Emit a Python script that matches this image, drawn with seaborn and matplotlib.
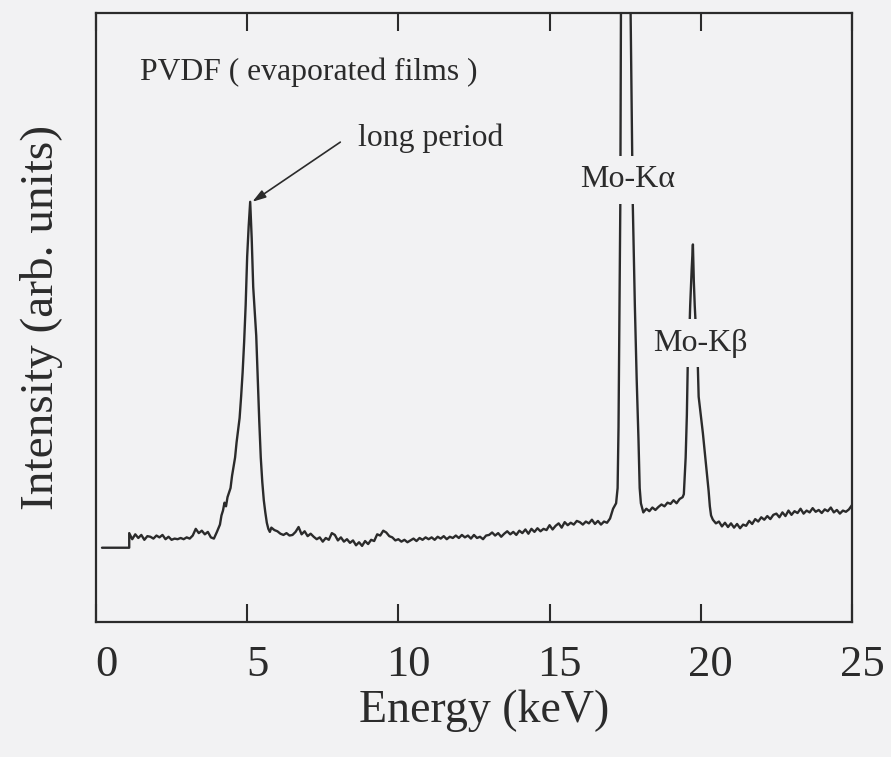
import numpy as np
import seaborn as sns
import matplotlib.pyplot as plt
from matplotlib.transforms import ScaledTranslation

# ==============================
# Spectrum (intensity in arb. units, 0-100 = frame height)
# ==============================
# flat lead-in and the step at ~1.1 keV
lead_e = [0.2, 1.1, 1.1]
lead_i = [12.2, 12.2, 14.6]

# low-energy background, 0.1 keV channels
low_e = np.round(np.arange(1.2, 3.95, 0.1), 1)
low_i = [13.6, 14.4, 13.8, 14.3, 13.5, 14.1, 14.0, 13.7, 14.2, 13.9,
         14.3, 13.6, 14.0, 13.5, 13.7, 13.6, 13.8, 13.6, 13.9, 13.7,
         14.2, 15.3, 14.6, 15.0, 14.4, 14.8, 13.9, 13.7]

# long period peak
lp_e = [4.0, 4.1, 4.15, 4.2, 4.25, 4.3, 4.35, 4.45, 4.5, 4.55,
        4.6, 4.65, 4.7, 4.75, 4.8, 4.85, 4.9, 4.95, 5.0, 5.05,
        5.1, 5.15, 5.2, 5.25, 5.3, 5.35, 5.4, 5.45, 5.5, 5.55,
        5.6, 5.65, 5.7, 5.75, 5.8]
lp_i = [14.8, 16.0, 17.5, 18.3, 19.6, 19.0, 20.5, 22.0, 24.0, 25.5,
        27.0, 29.5, 31.5, 33.5, 37.0, 41.0, 46.0, 52.0, 60.0, 65.0,
        69.0, 63.0, 55.0, 51.0, 47.0, 40.0, 33.0, 27.0, 23.0, 20.0,
        18.0, 16.3, 15.3, 14.8, 15.5]

# background between long period and Mo-Ka
mid_e = np.round(np.arange(5.9, 17.15, 0.1), 1)
mid_i = [15.1,
         14.9, 14.5, 14.3, 14.6, 14.2, 14.3, 14.8, 15.6, 14.4, 14.9,
         14.1, 14.5, 14.0, 13.6, 13.9, 13.2, 13.8, 13.5, 14.6, 14.3,
         13.4, 13.9, 13.2, 13.6, 13.0, 13.4, 12.6, 13.1, 12.5, 13.3,
         12.8, 13.5, 13.3, 14.4, 14.2, 15.0, 14.7, 14.1, 13.9, 13.4,
         13.6, 13.2, 13.5, 13.1, 13.4, 13.7, 13.3, 13.8, 13.5, 13.9,
         13.6, 13.9, 13.5, 14.0, 13.7, 14.1, 13.6, 14.0, 13.8, 14.2,
         13.8, 14.3, 13.9, 14.2, 13.7, 14.3, 13.8, 14.0, 13.6, 14.2,
         14.3, 14.7, 14.2, 14.6, 14.0, 14.5, 14.9, 14.4, 14.8, 14.3,
         15.0, 14.6, 15.2, 14.5, 15.3, 14.8, 15.4, 14.9, 15.3, 15.1,
         15.9, 15.2, 15.8, 16.2, 15.5, 16.4, 15.9, 16.3, 16.0, 16.6,
         16.4, 16.0, 16.5, 16.2, 16.8, 16.1, 16.6, 16.0, 16.5, 16.3,
         17.0, 18.6]

# Mo-Ka (goes off scale)
ka_e = [17.2, 17.25, 17.28, 17.31, 17.34, 17.36, 17.5, 17.68, 17.75,
        17.82, 17.88, 17.94, 17.98, 18.02]
ka_i = [19.5, 22, 32, 50, 69, 100, 140, 100, 69, 52, 40, 30, 22, 19.5]

# between Ka and Kb
gap_e = np.round(np.arange(18.1, 19.45, 0.1), 1)
gap_i = [18.0, 18.6, 18.2, 18.8, 18.4, 18.9, 19.3, 19.0, 19.6, 19.4,
         20.0, 19.5, 20.2, 20.5]

# Mo-Kb
kb_e = [19.44, 19.5, 19.54, 19.57, 19.62, 19.65, 19.7, 19.74, 19.77, 19.8,
        19.83, 19.9, 19.93, 20.0, 20.07, 20.14, 20.2, 20.26, 20.3, 20.34,
        20.4, 20.5]
kb_i = [21, 27, 34, 42.5, 47, 52, 58, 62, 56, 52,
        49, 42.5, 37, 34, 31, 27.5, 24.5, 21.5, 19, 17.5,
        16.8, 16.2]

# high-energy tail
tail_e = np.round(np.arange(20.6, 25.05, 0.1), 1)
tail_i = [16.5, 15.7, 16.3, 15.6, 16.2, 15.5, 16.1, 15.4, 16.0, 15.8,
          16.6, 16.1, 16.9, 16.5, 17.2, 16.8, 17.4, 16.9, 17.6, 17.8,
          17.2, 18.0, 17.4, 18.3, 17.6, 18.2, 17.9, 18.6, 17.8, 18.3,
          18.0, 18.7, 18.1, 18.4, 17.9, 18.5, 18.2, 18.8, 18.0, 18.4,
          17.8, 18.3, 18.1, 18.5, 19.2]

energy = np.concatenate([lead_e, low_e, lp_e, mid_e, ka_e, gap_e, kb_e, tail_e])
intensity = np.concatenate([lead_i, low_i, lp_i, mid_i, ka_i, gap_i, kb_i, tail_i])

x_ticks = [0, 5, 10, 15, 20, 25]

# ==============================
# Plot
# ==============================
sns.set_style("white")
plt.rcParams["font.family"] = ["Liberation Serif", "DejaVu Serif"]
bg = "#f2f2f3"
ink = "#2b2b2b"

fig = plt.figure(figsize=(8.91, 7.57), dpi=100, facecolor=bg)
ax = fig.add_axes([0.1077, 0.1783, 0.8485, 0.8045], facecolor=bg)

sns.lineplot(x=energy, y=intensity, sort=False, estimator=None,
             color=ink, lw=1.7, ax=ax)

ax.set_xlim(0, 25)
ax.set_ylim(0, 100)
ax.set_xticks(x_ticks)
ax.set_yticks([])
ax.tick_params(axis="x", direction="in", length=13, width=1.5, color=ink,
               top=True, bottom=True, labelsize=32, pad=16.5, labelcolor=ink)
# scanned labels sit a little right of their ticks
for lbl in ax.get_xticklabels():
    lbl.set_transform(lbl.get_transform() + ScaledTranslation(0.1, 0, fig.dpi_scale_trans))
for sp in ax.spines.values():
    sp.set_linewidth(1.6)
    sp.set_color(ink)

ax.set_xlabel("Energy (keV)", fontsize=33, color=ink)
ax.xaxis.set_label_coords(0.513, -0.110)
ax.set_ylabel("Intensity (arb. units)", fontsize=34, color=ink)
ax.yaxis.set_label_coords(-0.044, 0.5)

# annotations
ax.text(1.46, 90.3, "PVDF ( evaporated films )", fontsize=22.8, color=ink,
        ha="left", va="center")
ax.text(8.68, 79.5, "long period", fontsize=22.8, color=ink, ha="left", va="center")
ax.annotate("", xy=(5.17, 69.0), xytext=(8.08, 78.8),
            arrowprops=dict(arrowstyle="-|>,head_length=0.8,head_width=0.25",
                            color=ink, lw=1.2, shrinkA=0, shrinkB=0))
box = dict(boxstyle="square,pad=0.3", facecolor=bg, edgecolor="none")
ax.text(17.58, 72.6, "Mo-K\u03b1", fontsize=23, color=ink, ha="center",
        va="center", bbox=box)
ax.text(20.0, 45.8, "Mo-K\u03b2", fontsize=23, color=ink, ha="center",
        va="center", bbox=box)

plt.savefig("out.png", dpi=100, facecolor=bg)
